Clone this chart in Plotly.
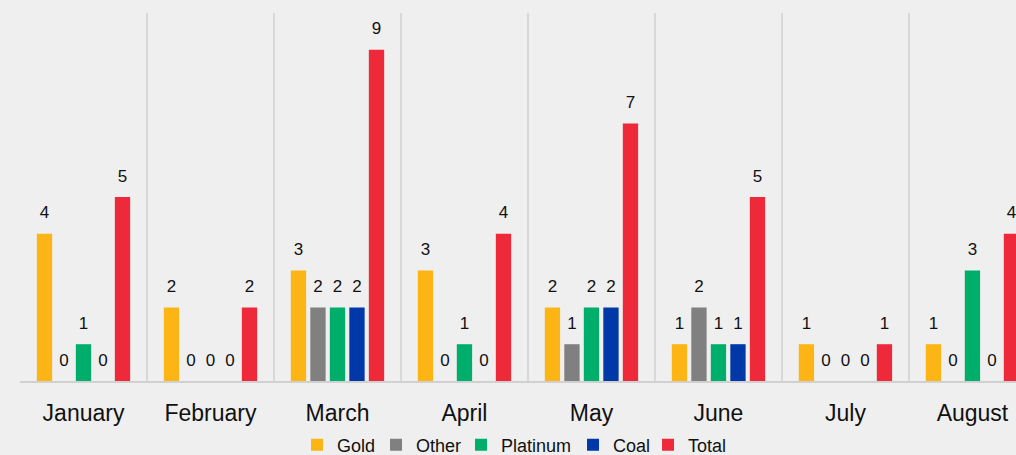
import plotly.graph_objects as go

months = ["January", "February", "March", "April", "May", "June", "July", "August"]
gold = [4, 2, 3, 3, 2, 1, 1, 1]
other = [0, 0, 2, 0, 1, 2, 0, 0]
platinum = [1, 0, 2, 1, 2, 1, 0, 3]
coal = [0, 0, 2, 0, 2, 1, 0, 0]
total = [5, 2, 9, 4, 7, 5, 1, 4]

series_names = ["Gold", "Other", "Platinum", "Coal", "Total"]
series_values = [gold, other, platinum, coal, total]
series_colors = ["#FDB515", "#808080", "#00AE6B", "#0038A8", "#EE2A3A"]
legend_widths = [34, 40, 67, 30, 38]

FONT = "Liberation Sans, Arial, sans-serif"

fig = go.Figure()
for name, vals, color, lw in zip(series_names, series_values, series_colors, legend_widths):
    fig.add_trace(go.Bar(
        name=name, x=months, y=vals,
        marker=dict(color=color, line=dict(width=0)),
        text=vals,
        texttemplate="<span style='font-size:17px'>%{y}</span><br><span style='color:rgba(0,0,0,0)'>.</span>",
        textposition="outside",
        constraintext="none",
        textfont=dict(family=FONT, size=8, color="#111111"),
        cliponaxis=False,
        legendwidth=lw,
    ))

fig.update_layout(
    width=1016, height=455,
    margin=dict(l=20, r=0, t=13, b=74, autoexpand=False),
    paper_bgcolor="#efefef",
    plot_bgcolor="#efefef",
    barmode="group",
    bargap=0.232,
    bargroupgap=0.215,
    font=dict(family=FONT, color="#111111"),
    showlegend=True,
    legend=dict(
        orientation="h", x=0.496, xanchor="center",
        yref="container", y=0.022, yanchor="middle",
        font=dict(family=FONT, size=18, color="#111111"),
        bgcolor="rgba(0,0,0,0)", itemclick=False,
    ),
    xaxis=dict(
        type="category",
        range=[-0.5, 7.343],
        tickson="boundaries",
        showgrid=True, gridcolor="#d8d8d8", gridwidth=1.5,
        showline=True, linecolor="#d0d0d0", linewidth=2,
        ticks="", ticklabelstandoff=10,
        tickfont=dict(family=FONT, size=23, color="#111111"),
        zeroline=False, automargin=False,
    ),
    yaxis=dict(
        range=[0, 10], showgrid=False, showticklabels=False,
        zeroline=False, showline=False, ticks="", automargin=False,
    ),
)

fig.write_html(
    "out.html",
    config={"displayModeBar": False},
    post_script="document.body.style.margin='0';document.body.style.overflow='hidden';",
)
